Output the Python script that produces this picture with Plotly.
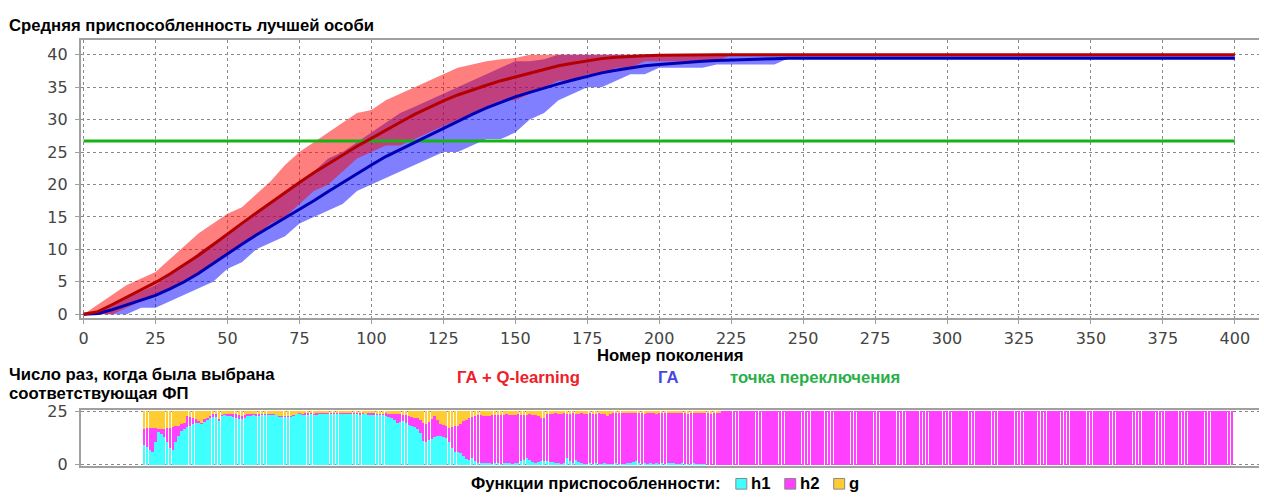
import plotly.graph_objects as go

# ---------------- data: top chart (every 5 generations) ----------------
GENS = list(range(0, 401, 5))

RED_MEAN = [0, 0.4, 1.5, 2.6, 3.7, 4.9, 6.2, 7.6, 9.1, 10.7,
            12.4, 14.0, 15.6, 17.2, 18.8, 20.3, 21.8, 23.2, 24.6, 25.9,
            27.1, 28.4, 29.6, 30.8, 31.9, 32.9, 33.8, 34.6, 35.3, 36.0,
            36.6, 37.2, 37.8, 38.3, 38.7, 39.1, 39.4, 39.6, 39.75, 39.85,
            39.92, 39.96, 39.98, 40, 40, 40, 40, 40, 40, 40,
            40, 40, 40, 40, 40, 40, 40, 40, 40, 40,
            40, 40, 40, 40, 40, 40, 40, 40, 40, 40,
            40, 40, 40, 40, 40, 40, 40, 40, 40, 40,
            40]
RED_UP = [0, 1.5, 3, 4.5, 5.5, 6.5, 8.5, 10.5, 12.5, 14,
          15.5, 16.5, 18.5, 20.5, 23, 25, 26.5, 28, 29.5, 31,
          31.5, 33, 34, 35, 36, 37, 38, 38.5, 39, 39.3,
          39.5, 40, 40, 40, 40, 40, 40, 40, 40, 40,
          40, 40, 40, 40, 40, 40, 40, 40, 40, 40,
          40, 40, 40, 40, 40, 40, 40, 40, 40, 40,
          40, 40, 40, 40, 40, 40, 40, 40, 40, 40,
          40, 40, 40, 40, 40, 40, 40, 40, 40, 40,
          40]
RED_LOW = [0, 0, 0, 1, 2, 3, 4, 5, 6, 8,
           9, 11, 12, 14, 15, 17, 19, 20, 22, 24,
           25, 26, 26, 27, 28, 29, 30, 31, 32, 33,
           33, 34, 35, 36, 36, 37, 37, 38, 38, 39,
           39, 39, 39, 39, 39, 40, 40, 40, 40, 40,
           40, 40, 40, 40, 40, 40, 40, 40, 40, 40,
           40, 40, 40, 40, 40, 40, 40, 40, 40, 40,
           40, 40, 40, 40, 40, 40, 40, 40, 40, 40,
           40]
BLUE_MEAN = [0, 0.1, 0.7, 1.4, 2.1, 2.9, 3.9, 5.0, 6.3, 7.8,
             9.4, 10.8, 12.2, 13.5, 14.8, 16.1, 17.5, 18.9, 20.3, 21.7,
             23.0, 24.3, 25.4, 26.5, 27.6, 28.7, 29.8, 30.8, 31.8, 32.7,
             33.5, 34.2, 34.9, 35.5, 36.1, 36.7, 37.2, 37.6, 38.0, 38.3,
             38.5, 38.7, 38.85, 39.0, 39.1, 39.2, 39.3, 39.35, 39.4, 39.45,
             39.45, 39.45, 39.45, 39.45, 39.45, 39.45, 39.45, 39.45, 39.45, 39.45,
             39.45, 39.45, 39.45, 39.45, 39.45, 39.45, 39.45, 39.45, 39.45, 39.45,
             39.45, 39.45, 39.45, 39.45, 39.45, 39.45, 39.45, 39.45, 39.45, 39.45,
             39.45]
BLUE_UP = [0, 0.5, 1.5, 2.5, 3.5, 4.5, 6, 7.5, 9.5, 11,
           12.5, 14, 15.5, 17, 19, 20.5, 22, 24, 25, 26.5,
           28, 29.5, 31, 32, 33, 34, 35, 36, 37, 38,
           39, 39, 39.3, 40, 40, 40, 40, 40, 40, 40,
           40, 40, 40, 40, 40, 40, 40, 40, 40, 40,
           40, 40, 40, 40, 40, 40, 40, 40, 40, 40,
           40, 40, 40, 40, 40, 40, 40, 40, 40, 40,
           40, 40, 40, 40, 40, 40, 40, 40, 40, 40,
           40]
BLUE_LOW = [0, 0, 0, 0, 1, 1, 2, 3, 4, 5,
            7, 8, 10, 11, 12, 14, 15, 16, 17, 19,
            20, 21, 22, 23, 24, 25, 25, 26, 27, 27,
            28, 30, 31, 33, 34, 35, 35, 36, 37, 37,
            38, 38, 38, 38, 38.5, 38.5, 38.5, 38.5, 38.5, 39.45,
            39.45, 39.45, 39.45, 39.45, 39.45, 39.45, 39.45, 39.45, 39.45, 39.45,
            39.45, 39.45, 39.45, 39.45, 39.45, 39.45, 39.45, 39.45, 39.45, 39.45,
            39.45, 39.45, 39.45, 39.45, 39.45, 39.45, 39.45, 39.45, 39.45, 39.45,
            39.45]
SWITCH_X = [0, 400]
SWITCH_Y = [26.7, 26.7]

# ---------------- data: bottom chart (per generation 21..399) ----------------
BAR_GENS = list(range(21, 400))
TOTAL_RUNS = 25
H1 = [
    9.1, 8.3, 7.0, 6.1, 10.6, 15.1, 14.4, 13.0, 10.5, 8.0,      # 21-30
    6.8, 10.6, 13.6, 15.9, 16.7, 17.5, 18.2, 18.9, 19.4, 19.7,  # 31-40
    19.5, 20.5, 21.2, 22.0, 22.2, 22.5, 21.0, 23.1, 23.5, 23.1, # 41-50
    22.7, 22.2, 21.7, 21.2, 21.2, 22.0, 23.0, 23.3, 23.5, 23.3, # 51-60
    23.0, 23.5, 23.5, 23.8, 23.5, 23.2, 23.5, 22.5, 22.5, 22.8, # 61-70
    22.5, 22.8, 23.3, 24.2, 24.0, 23.8, 23.5, 23.7, 24.0, 23.5, # 71-80
    23.8, 24.0, 24.2, 24.0, 24.2, 24.2, 24.0, 24.2, 24.3, 24.2, # 81-90
    24.0, 24.2, 24.3, 24.2, 24.0, 23.8, 24.0, 24.0, 23.8, 23.5, # 91-100
    23.7, 23.5, 23.5, 23.2, 23.0, 22.5, 22.0, 20.8, 19.7, 20.1, # 101-110
    20.5, 19.5, 18.5, 18.2, 17.5, 16.7, 15.0, 11.0, 10.6, 11.4, # 111-120
    12.1, 12.9, 13.3, 13.6, 13.2, 12.5, 10.5, 8.0, 6.1, 5.8,    # 121-130
    5.3, 4.2, 2.8, 2.3, 3.0, 1.5, 0.8, 0.6, 0.8, 1.0,           # 131-140
    0.6, 0.5, 0.8, 0.6, 0.4, 0.6, 1.0, 0.8, 0.5, 0.6,           # 141-150
    1.0, 1.5, 2.2, 3.0, 2.0, 1.2, 1.0, 1.4, 1.6, 1.5,           # 151-160
    1.5, 1.2, 1.4, 0.8, 0.6, 0.5, 1.0, 3.0, 1.6, 0.8,           # 161-170
    2.0, 1.2, 0.6, 0.5, 0.4, 0.6, 0.5, 0.8, 0.5, 0.4,           # 171-180
    0.6, 0.5, 0.4, 0.5, 0.6, 0.5, 0.4, 0.3, 0.6, 0.8,           # 181-190
    1.2, 1.5, 0.8, 0.5, 0.6, 0.4, 0.8, 0.5, 0.6, 0.5,           # 191-200
    0.8, 0.4, 0.6, 1.0, 0.6, 0.3, 0.5, 0.8, 0.4, 0.5,           # 201-210
    0.3, 0.6, 0.3, 0.2, 0.5, 0.2, 0, 0, 0, 0,                   # 211-220
    0, 0, 0, 0, 0, 0, 0, 0, 0, 0,  0, 0, 0, 0, 0, 0, 0, 0, 0, 0,   # 221-240
    0, 0, 0, 0, 0, 0, 0, 0, 0, 0,  0, 0, 0, 0, 0, 0, 0, 0, 0, 0,   # 241-260
    0, 0, 0, 0, 0, 0, 0, 0, 0, 0,  0, 0, 0, 0, 0, 0, 0, 0, 0, 0,   # 261-280
    0, 0, 0, 0, 0, 0, 0, 0, 0, 0,  0, 0, 0, 0, 0, 0, 0, 0, 0, 0,   # 281-300
    0, 0, 0, 0, 0, 0, 0, 0, 0, 0,  0, 0, 0, 0, 0, 0, 0, 0, 0, 0,   # 301-320
    0, 0, 0, 0, 0, 0, 0, 0, 0, 0,  0, 0, 0, 0, 0, 0, 0, 0, 0, 0,   # 321-340
    0, 0, 0, 0, 0, 0, 0, 0, 0, 0,  0, 0, 0, 0, 0, 0, 0, 0, 0, 0,   # 341-360
    0, 0, 0, 0, 0, 0, 0, 0, 0, 0,  0, 0, 0, 0, 0, 0, 0, 0, 0, 0,   # 361-380
    0, 0, 0, 0, 0, 0, 0, 0, 0, 0,  0, 0, 0, 0, 0, 0, 0, 0, 0,      # 381-399
]
G = [
    8.3, 8.0, 7.6, 7.8, 8.0, 8.3, 8.3, 8.3, 8.0, 7.6,           # 21-30
    7.4, 7.0, 6.8, 6.1, 5.3, 2.3, 2.6, 3.0, 3.8, 4.5,           # 31-40
    5.3, 3.8, 3.0, 2.0, 1.2, 0.8, 3.5, 1.5, 1.2, 1.2,           # 41-50
    1.0, 1.2, 1.0, 1.5, 2.0, 1.5, 1.0, 0.8, 1.0, 1.2,           # 51-60
    1.0, 0.8, 1.0, 0.8, 1.0, 0.8, 1.5, 2.3, 2.3, 2.0,           # 61-70
    2.3, 2.0, 1.5, 0.8, 0.6, 0.8, 0.6, 0.5, 0.6, 0.8,           # 71-80
    0.6, 0.5, 0.4, 0.6, 0.5, 0.4, 0.6, 0.5, 0.4, 0.5,           # 81-90
    0.6, 0.5, 0.4, 0.5, 0.6, 0.5, 0.6, 0.8, 0.6, 0.5,           # 91-100
    0.6, 0.8, 1.0, 0.8, 0.6, 0.8, 1.0, 1.2, 1.0, 1.2,           # 101-110
    1.5, 1.5, 2.0, 2.8, 3.0, 3.0, 4.0, 5.5, 6.1, 5.0,           # 111-120
    3.5, 2.3, 4.0, 6.1, 6.5, 7.0, 7.6, 7.4, 7.0, 6.8,           # 121-130
    6.0, 4.5, 4.0, 3.0, 2.5, 2.0, 1.5, 1.8, 2.0, 2.3,           # 131-140
    2.0, 1.8, 1.5, 1.5, 1.6, 1.5, 1.4, 1.5, 1.6, 1.5,           # 141-150
    1.4, 1.5, 1.6, 1.5, 1.4, 1.5, 1.8, 2.2, 3.0, 3.0,           # 151-160
    1.2, 0.8, 0.8, 0.6, 0.8, 0.8, 0.6, 0.8, 0.8, 0.6,           # 161-170
    0.8, 0.8, 0.6, 0.8, 0.8, 0.6, 0.8, 0.8, 0.6, 0.8,           # 171-180
    1.2, 2.3, 1.0, 0.6, 0.5, 0.5, 0.4, 0.5, 0.4, 0.5,           # 181-190
    0.4, 0.6, 0.4, 0.5, 1.0, 0.4, 0.3, 0.5, 0.8, 0.4,           # 191-200
    0.3, 0.5, 0.4, 0.3, 0.6, 0.4, 0.3, 0.2, 0.3, 0.8,           # 201-210
    0.3, 0.2, 0.3, 0.5, 0.2, 0.3, 0.2, 0.8, 0.2, 0.3,           # 211-220
    0.5, 0, 0, 0, 0, 0, 0, 0, 0, 0,  0, 0, 0, 0, 0, 0, 0, 0, 0, 0, # 221-240
    0, 0, 0, 0, 0, 0, 0, 0, 0, 0,  0, 0, 0, 0, 0, 0, 0, 0, 0, 0,   # 241-260
    0, 0, 0, 0, 0, 0, 0, 0, 0, 0,  0, 0, 0, 0, 0, 0, 0, 0, 0, 0,   # 261-280
    0, 0, 0, 0, 0, 0, 0, 0, 0, 0,  0, 0, 0, 0, 0, 0, 0, 0, 0, 0,   # 281-300
    0, 0, 0, 0, 0, 0, 0, 0, 0, 0,  0, 0, 0, 0, 0, 0, 0, 0, 0, 0,   # 301-320
    0, 0, 0, 0, 0, 0, 0, 0, 0, 0,  0, 0, 0, 0, 0, 0, 0, 0, 0, 0,   # 321-340
    0, 0, 0, 0, 0, 0, 0, 0, 0, 0,  0, 0, 0, 0, 0, 0, 0, 0, 0, 0,   # 341-360
    0, 0, 0, 0, 0, 0, 0, 0, 0, 0,  0, 0, 0, 0, 0, 0, 0, 0, 0, 0,   # 361-380
    0, 0, 0, 0, 0, 0, 0, 0, 0, 0,  0, 0, 0, 0, 0, 0, 0, 0, 0,      # 381-399
]
H2 = [round(TOTAL_RUNS - a - b, 2) for a, b in zip(H1, G)]

X_TICKS = list(range(0, 401, 25))
Y_TICKS = list(range(0, 41, 5))
Y2_TICKS = [0, 25]

# ---------------- layout helpers ----------------
W, H = 1264, 501
def fx(px):
    return px / W
def fy(py):
    return 1 - py / H

TICK_FONT = dict(family="DejaVu Sans", size=16, color="#444444")
LBL = "Liberation Sans"
GRID = "#8a8a8a"
AXL = "#a0a0a0"

fig = go.Figure()

# bands
fig.add_trace(go.Scatter(x=GENS, y=BLUE_LOW, mode="lines", line=dict(width=0),
                         hoverinfo="skip", showlegend=False))
fig.add_trace(go.Scatter(x=GENS, y=BLUE_UP, mode="lines", line=dict(width=0),
                         fill="tonexty", fillcolor="rgba(0,0,255,0.5)", hoverinfo="skip", showlegend=False))
fig.add_trace(go.Scatter(x=GENS, y=RED_LOW, mode="lines", line=dict(width=0),
                         hoverinfo="skip", showlegend=False))
fig.add_trace(go.Scatter(x=GENS, y=RED_UP, mode="lines", line=dict(width=0),
                         fill="tonexty", fillcolor="rgba(255,0,0,0.5)", hoverinfo="skip", showlegend=False))
# switch line
fig.add_trace(go.Scatter(x=SWITCH_X, y=SWITCH_Y, mode="lines", line=dict(color="#14B414", width=3),
                         name="точка переключения", showlegend=False))
# mean lines
fig.add_trace(go.Scatter(x=GENS, y=BLUE_MEAN, mode="lines", line=dict(color="#0000B4", width=3),
                         name="ГА", showlegend=False))
fig.add_trace(go.Scatter(x=GENS, y=RED_MEAN, mode="lines", line=dict(color="#B40000", width=3),
                         name="ГА + Q-learning", showlegend=False))

# bottom stacked bars
for vals, col, nm in [(H1, "#40FFFF", "h1"), (H2, "#FF40FF", "h2"), (G, "#FFCC33", "g")]:
    fig.add_trace(go.Bar(x=BAR_GENS, y=vals, width=0.85, marker=dict(color=col, line=dict(width=0)),
                         name=nm, xaxis="x2", yaxis="y2", showlegend=False))

XR = [-0.94, 408.4]
fig.update_layout(
    width=W, height=H, margin=dict(l=0, r=0, t=0, b=0),
    paper_bgcolor="white", plot_bgcolor="white", barmode="stack",
    xaxis=dict(domain=[fx(79), fx(1259)], range=XR, tickvals=X_TICKS, showgrid=True,
               gridcolor=GRID, griddash="dot", gridwidth=1, zeroline=False,
               showline=True, linecolor=AXL, linewidth=2, mirror=True,
               ticks="outside", ticklen=4, tickcolor=AXL, tickfont=TICK_FONT,
               ticklabelstandoff=1, anchor="y"),
    yaxis=dict(domain=[fy(320), fy(33)], range=[-0.55, 42.28], tickvals=Y_TICKS, showgrid=True,
               gridcolor=GRID, griddash="dot", gridwidth=1, zeroline=False,
               showline=True, linecolor=AXL, linewidth=2,
               ticks="outside", ticklen=4, tickcolor=AXL, tickfont=TICK_FONT,
               ticklabelstandoff=4, anchor="x"),
    xaxis2=dict(domain=[fx(79), fx(1259)], range=XR, showticklabels=False, showgrid=False,
                zeroline=False, showline=True, linecolor=AXL, linewidth=2, mirror=True,
                ticks="", anchor="y2"),
    yaxis2=dict(domain=[fy(473), fy(415)], range=[-0.59, 25.77], tickvals=Y2_TICKS, showgrid=True,
                gridcolor=GRID, griddash="dot", gridwidth=1, zeroline=False,
                showline=True, linecolor=AXL, linewidth=2,
                ticks="outside", ticklen=4, tickcolor=AXL, tickfont=TICK_FONT,
                ticklabelstandoff=4, anchor="x2"),
)

def txt(x, y, s, color="black", size=16.7, anchor="left"):
    fig.add_annotation(x=fx(x - 3 if anchor == "left" else x), y=fy(y), xref="paper", yref="paper",
                       text="<b>" + s + "</b>", showarrow=False, xanchor=anchor, yanchor="middle",
                       font=dict(family=LBL, size=size, color=color))

txt(8, 18, "Средняя приспособленность лучшей особи")
txt(669, 358.5, "Номер поколения", anchor="center")
txt(8, 378.5, "Число раз, когда была выбрана")
txt(8, 398, "соответствующая ФП")
txt(457, 382, "ГА + Q-learning", color="#EE2028")
txt(658, 382, "ГА", color="#4848E0")
txt(730, 382, "точка переключения", color="#28B048")
txt(471, 491, "Функции приспособленности:")

# legend swatches for the bar series
for sx, col, nm in [(735, "#40FFFF", "h1"), (784, "#FF40FF", "h2"), (833, "#FFCC33", "g")]:
    fig.add_shape(type="rect", xref="paper", yref="paper",
                  x0=fx(sx), x1=fx(sx + 11), y0=fy(497), y1=fy(486),
                  fillcolor=col, line=dict(color="#888888", width=1))
    txt(sx + 16, 491, nm)

fig.write_html("out.html")
